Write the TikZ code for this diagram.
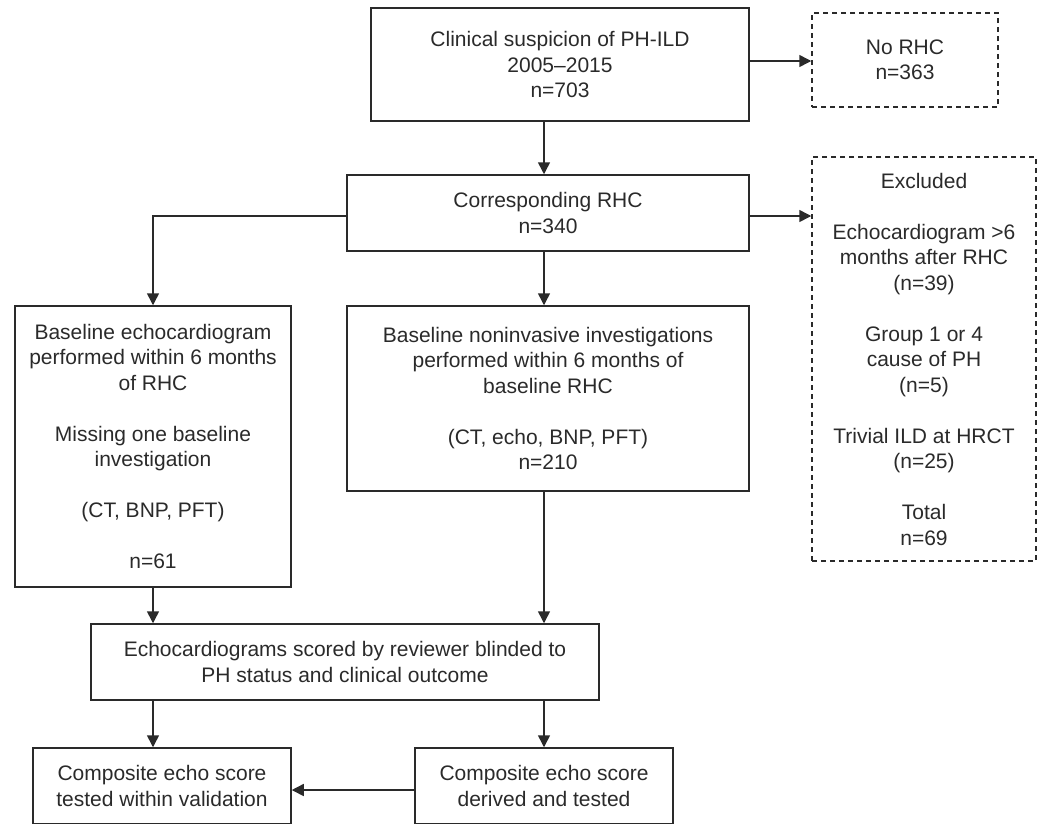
\documentclass[tikz,border=0pt]{standalone}
\usepackage{fontspec}
\setmainfont{Liberation Sans}
\usetikzlibrary{arrows.meta}
\definecolor{ink}{HTML}{2A2A2A}
\begin{document}
\begin{tikzpicture}[x=1pt,y=-1pt,
  box/.style={draw=ink, line width=1.5pt, rectangle, inner sep=0pt, align=center, text=ink, font=\fontsize{21}{25.5}\selectfont},
  dbox/.style={box, dash pattern=on 5pt off 4pt},
  arr/.style={draw=ink, line width=1.5pt, -{Triangle[length=12pt,width=12pt]}},
  conn/.style={draw=ink, line width=1.5pt}]
\useasboundingbox (0,0) rectangle (1041,823);
\clip (0,0) rectangle (1041,823);

\node[box, minimum width=378pt, minimum height=113pt] (top) at (560,64.5)
  {Clinical suspicion of PH-ILD\\2005–2015\\n=703};
\node[dbox, minimum width=186pt, minimum height=94pt] (norhc) at (905,60)
  {No RHC\\n=363};
\node[box, minimum width=402pt, minimum height=76pt] (second) at (548,213)
  {Corresponding RHC\\n=340};
\node[dbox, minimum width=224pt, minimum height=404pt] (excl) at (924,359)
  {Excluded\\[25.5pt]Echocardiogram >6\\months after RHC\\(n=39)\\[25.5pt]Group 1 or 4\\cause of PH\\(n=5)\\[25.5pt]Trivial ILD at HRCT\\(n=25)\\[25.5pt]Total\\n=69};
\node[box, minimum width=276pt, minimum height=281pt] (left) at (153,446.5)
  {Baseline echocardiogram\\performed within 6 months\\of RHC\\[25.5pt]Missing one baseline\\investigation\\[25.5pt](CT, BNP, PFT)\\[25.5pt]n=61};
\node[box, minimum width=402pt, minimum height=185pt] (mid) at (548,398.5)
  {Baseline noninvasive investigations\\performed within 6 months of\\baseline RHC\\[25.5pt](CT, echo, BNP, PFT)\\n=210};
\node[box, minimum width=508pt, minimum height=76pt] (echo) at (345,662)
  {Echocardiograms scored by reviewer blinded to\\PH status and clinical outcome};
\node[box, minimum width=258pt, minimum height=76pt] (bl) at (162,786)
  {Composite echo score\\tested within validation};
\node[box, minimum width=258pt, minimum height=76pt] (br) at (544,786)
  {Composite echo score\\derived and tested};

\coordinate (spine) at (544,0);
\coordinate (lspine) at (153,0);
\coordinate (y1) at (0,61);
\coordinate (y2) at (0,216);
\coordinate (y3) at (0,790);

\draw[arr] (top.east |- y1) -- (norhc.west |- y1);
\draw[arr] (top.south -| spine) -- (second.north -| spine);
\draw[arr] (second.east |- y2) -- (excl.west |- y2);
\draw[arr] (second.west |- y2) -| (left.north -| lspine);
\draw[arr] (second.south -| spine) -- (mid.north -| spine);
\draw[arr] (left.south -| lspine) -- (echo.north -| lspine);
\draw[arr] (mid.south -| spine) -- (echo.north -| spine);
\draw[arr] (echo.south -| lspine) -- (bl.north -| lspine);
\draw[arr] (echo.south -| spine) -- (br.north -| spine);
\draw[arr] (br.west |- y3) -- (bl.east |- y3);
\end{tikzpicture}
\end{document}
